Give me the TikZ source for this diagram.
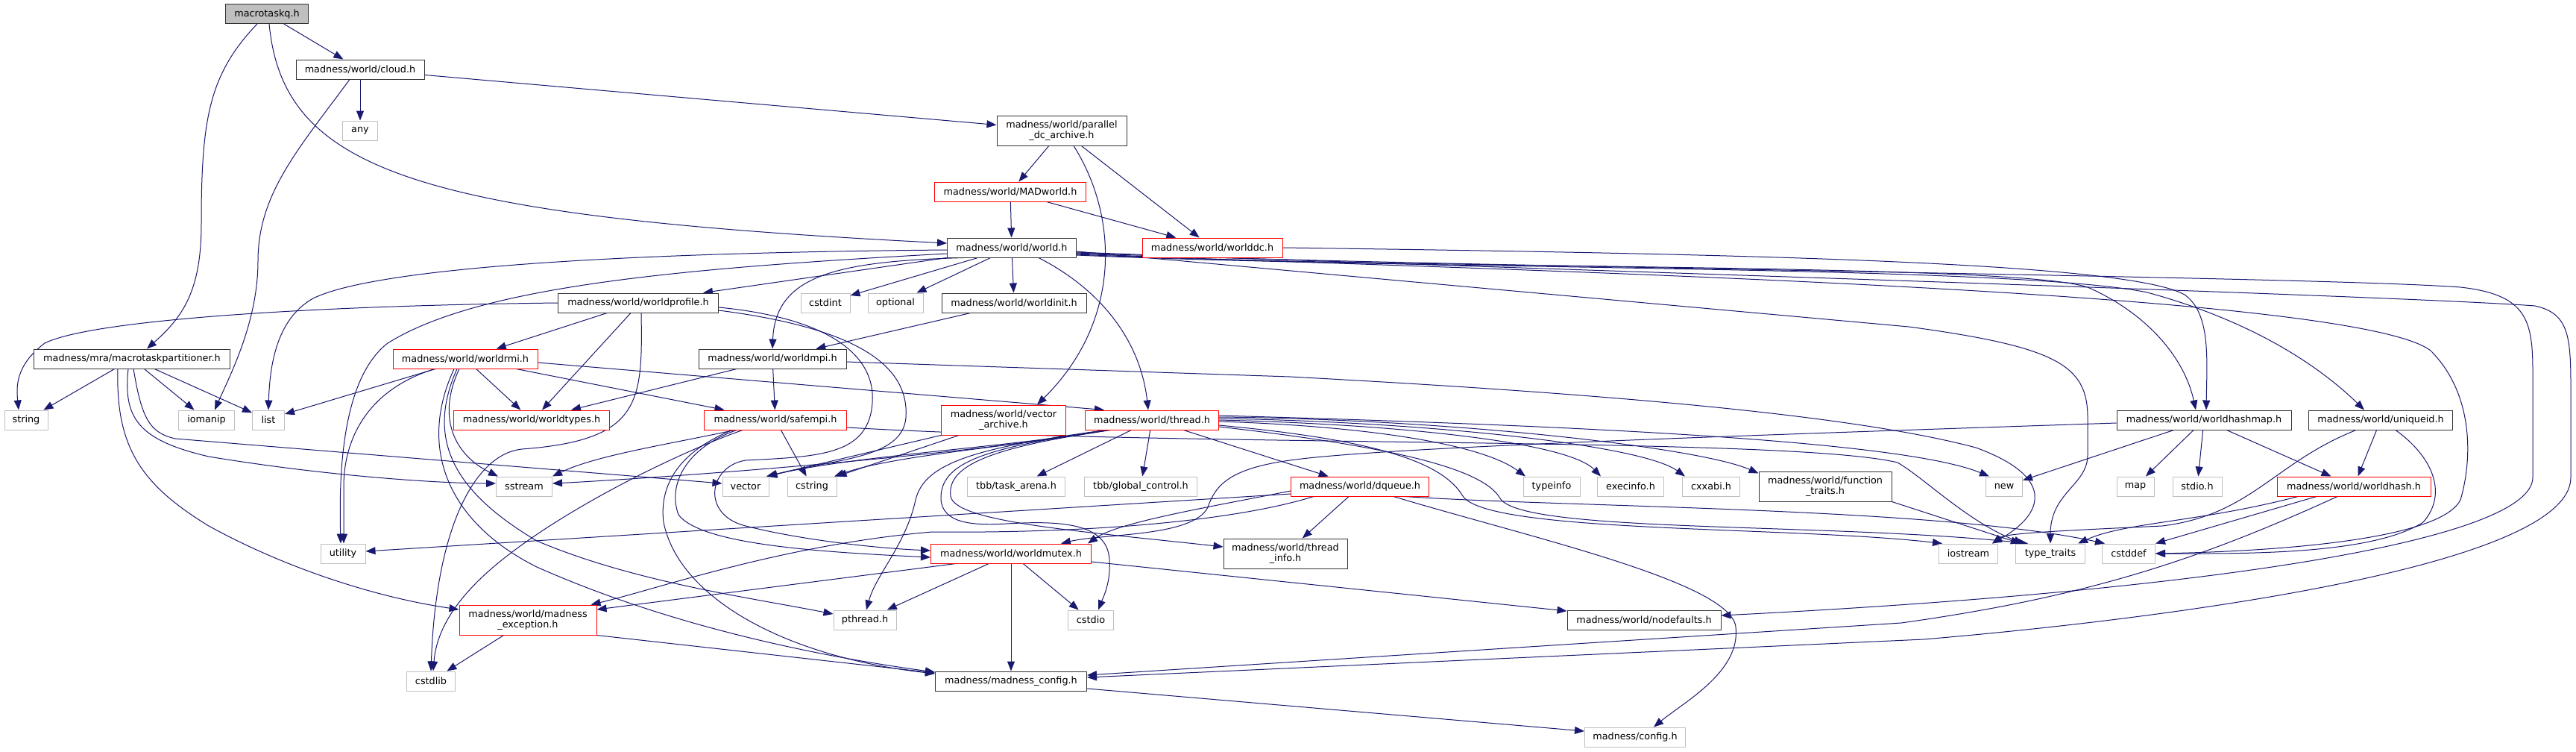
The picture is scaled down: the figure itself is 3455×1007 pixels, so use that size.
\documentclass[tikz,border=0pt]{standalone}
\usepackage{fontspec}
\setmainfont{DejaVu Sans}
\usetikzlibrary{arrows.meta,backgrounds}
\definecolor{Ink}{HTML}{191970}
\definecolor{Frame}{HTML}{333333}
\definecolor{Ash}{HTML}{BFBFBF}
\definecolor{Alert}{HTML}{FF0000}
\pgfdeclarelayer{paper}
\pgfsetlayers{paper,background,main}

\begin{document}
\begin{tikzpicture}[x=1pt,y=-1pt,
    box/.style={draw=Frame,line width=1pt,fill=white,minimum height=26pt,
      inner xsep=0pt,inner ysep=5.5pt,align=center,
      font=\fontsize{12.8}{14.5}\selectfont},
    sys/.style={box,draw=Ash},
    cut/.style={box,draw=Alert},
    tall/.style={minimum height=40pt},
    dep/.style={-{Triangle[length=13pt,width=10pt]},draw=Ink,line width=1pt}]
  \begin{pgfonlayer}{paper}
    \fill[white] (0,0) rectangle (3455,1007);
  \end{pgfonlayer}
  \useasboundingbox (0,0) rectangle (3455,1007);

  % project headers
  \node[box,fill=Ash,minimum width=111] (root) at (358,18.5) {macrotaskq.h};
  \node[box,minimum width=172] (cloud) at (483,93) {madness/world/cloud.h};
  \node[box,tall,minimum width=174] (parallel) at (1424,175) {madness/world/parallel\\\_dc\_archive.h};
  \node[cut,minimum width=203] (madworld) at (1355,257) {madness/world/MADworld.h};
  \node[box,minimum width=173] (world) at (1357,332) {madness/world/world.h};
  \node[cut,minimum width=188] (worlddc) at (1626,332) {madness/world/worlddc.h};
  \node[box,minimum width=215] (worldprofile) at (856,406) {madness/world/worldprofile.h};
  \node[box,minimum width=194] (worldinit) at (1360,406) {madness/world/worldinit.h};
  \node[box,minimum width=263] (partitioner) at (177,481) {madness/mra/macrotaskpartitioner.h};
  \node[cut,minimum width=194] (worldrmi) at (624,481) {madness/world/worldrmi.h};
  \node[box,minimum width=198] (worldmpi) at (1036,481) {madness/world/worldmpi.h};
  \node[cut,minimum width=209] (worldtypes) at (713,563) {madness/world/worldtypes.h};
  \node[cut,minimum width=191] (safempi) at (1040,563) {madness/world/safempi.h};
  \node[cut,tall,minimum width=167] (vectorarch) at (1346,563) {madness/world/vector\\\_archive.h};
  \node[cut,minimum width=179] (thread) at (1545,563) {madness/world/thread.h};
  \node[box,minimum width=234] (worldhashmap) at (2956,563) {madness/world/worldhashmap.h};
  \node[box,minimum width=193] (uniqueid) at (3193,563) {madness/world/uniqueid.h};
  \node[cut,minimum width=185] (dqueue) at (1824,652) {madness/world/dqueue.h};
  \node[box,tall,minimum width=178] (functraits) at (2448,652) {madness/world/function\\\_traits.h};
  \node[cut,minimum width=206] (worldhash) at (3157,652) {madness/world/worldhash.h};
  \node[cut,minimum width=215] (worldmutex) at (1356,742) {madness/world/worldmutex.h};
  \node[box,tall,minimum width=166] (threadinfo) at (1724,742) {madness/world/thread\\\_info.h};
  \node[cut,tall,minimum width=184] (madexc) at (708,831) {madness/world/madness\\\_exception.h};
  \node[box,minimum width=206] (nodefaults) at (2205,831) {madness/world/nodefaults.h};
  \node[box,minimum width=203] (madconfig) at (1356,913) {madness/madness\_config.h};

  % system headers
  \foreach \n/\x/\y/\w/\txt in {any/483/175/47/any, cstdint/1107/406/66/cstdint,
      optional/1201/406/74/optional, string/35/563/58/string, iomanip/277/563/75/iomanip,
      list/360/563/43/list, sstream/703/652/75/sstream, vector/1000/652/62/vector,
      cstring/1089/652/66/cstring, typeinfo/2081/652/76/typeinfo,
      execinfo/2187/652/89/execinfo.h, cxxabi/2295/652/77/cxxabi.h, new/2688/652/49/new,
      map/2864/652/50/map, stdio/2947/652/66/stdio.h, utility/460/742/60/utility,
      iostream/2640/742/79/iostream, typetraits/2750/742/93/type\_traits,
      cstddef/2855/742/71/cstddef, pthread/1160/831/84/pthread.h,
      cstdio/1463/831/61/cstdio, cstdlib/578/913/65/cstdlib} {
    \node[sys,minimum width=\w] (\n) at (\x,\y) {\txt};
  }
  \node[sys,minimum width=131] (taskarena) at (1363,652) {tbb/task\_arena.h};
  \node[sys,minimum width=151] (globalctrl) at (1530,652) {tbb/global\_control.h};
  \node[sys,minimum width=135] (config) at (2193,988) {madness/config.h};

  \begin{scope}[on background layer]
    \draw[dep] (root) -- (cloud);
    \draw[dep] ([xshift=-13]root.south) .. controls (280,100) and (270,160) .. (270,300)
      .. controls (270,390) and (245,425) .. ([xshift=20]partitioner.north);
    \draw[dep] ([xshift=3]root.south) .. controls (380,230) and (560,290) .. ([yshift=6]world.west);

    \draw[dep] (cloud) -- (any);
    \draw[dep] (cloud) -- (parallel);
    \draw[dep] ([xshift=-14]cloud.south) .. controls (400,200) and (346,260) .. (346,350)
      .. controls (346,430) and (310,500) .. ([xshift=11]iomanip.north);

    \draw[dep] (parallel) -- (madworld);
    \draw[dep] (parallel) -- (worlddc);
    \draw[dep] ([xshift=16]parallel.south) .. controls (1500,290) and (1505,430) .. ([xshift=45]vectorarch.north);
    \draw[dep] (madworld) -- (world);
    \draw[dep] (madworld) -- (worlddc);

    \draw[dep] (world) -- (cstdint);
    \draw[dep] (world) -- (optional);
    \draw[dep] (world) -- (worldinit);
    \draw[dep] (world.south west) -- ([xshift=87]worldprofile.north);
    \draw[dep] ([xshift=-64]world.south) .. controls (1120,350) and (1040,370) .. (worldmpi.north);
    \draw[dep] ([xshift=36]world.south) .. controls (1480,390) and (1530,460) .. ([xshift=-5]thread.north);
    \draw[dep] ([yshift=-3]world.west) .. controls (700,340) and (480,370) .. (420,400)
      .. controls (375,425) and (362,480) .. (list.north);
    \draw[dep] ([yshift=-8]world.west) .. controls (900,360) and (640,385) .. (520,460)
      .. controls (455,510) and (455,650) .. ([xshift=-3]utility.north);
    \draw[dep] ([yshift=-5]world.east) -- (2560,438) .. controls (2760,465) and (2800,490) .. (2800,560)
      -- (2800,610) .. controls (2800,650) and (2750,660) .. (typetraits.north);
    \draw[dep] ([yshift=-9]world.east) .. controls (1900,362) and (2700,352) .. (2800,385)
      .. controls (2880,420) and (2930,480) .. ([xshift=-11]worldhashmap.north);
    \draw[dep] ([yshift=-10]world.east) .. controls (1900,362) and (2700,355) .. (2880,392)
      .. controls (3020,430) and (3110,490) .. ([xshift=-22]uniqueid.north);
    \draw[dep] ([yshift=-8]world.east) .. controls (1900,360) and (3150,385) .. (3260,470)
      .. controls (3320,530) and (3315,620) .. (3300,670) .. controls (3270,730) and (3000,740) .. (cstddef.east);
    \draw[dep] ([yshift=-7]world.east) .. controls (1900,358) and (3100,370) .. (3300,385)
      .. controls (3390,395) and (3397,430) .. (3397,500) -- (3397,640)
      .. controls (3397,720) and (3000,790) .. ([yshift=6]nodefaults.east);
    \draw[dep] ([yshift=-6]world.east) .. controls (1900,356) and (3200,395) .. (3400,410)
      .. controls (3445,420) and (3448,450) .. (3448,520) -- (3448,640)
      .. controls (3448,760) and (2900,830) .. (2580,857) -- ([yshift=5]madconfig.east);
    \draw[dep] (worlddc.east) .. controls (2300,340) and (2850,350) .. (2930,395)
      .. controls (2965,420) and (2960,480) .. ([xshift=3]worldhashmap.north);

    \draw[dep] (worldprofile.west) .. controls (400,410) and (120,430) .. (60,460)
      .. controls (20,490) and (22,520) .. ([xshift=-10]string.north);
    \draw[dep] (worldprofile) -- (worldrmi);
    \draw[dep] ([xshift=-10]worldprofile.south) -- ([xshift=14]worldtypes.north);
    \draw[dep] ([xshift=4]worldprofile.south) .. controls (862,540) and (860,590) .. (700,602)
      .. controls (640,608) and (585,700) .. (cstdlib.north);
    \draw[dep] ([yshift=-6]worldprofile.east) .. controls (1100,425) and (1175,470) .. (1170,540)
      .. controls (1165,610) and (1100,612) .. (1000,617) .. controls (950,625) and (940,690) .. (1000,705)
      .. controls (1080,725) and (1180,735) .. ([yshift=4]worldmutex.west);
    \draw[dep] ([yshift=-10]worldprofile.east) .. controls (1150,440) and (1220,490) .. (1215,560)
      .. controls (1210,615) and (1120,615) .. ([xshift=-2]vector.north east);

    \draw[dep] (partitioner) -- (string);
    \draw[dep] (partitioner) -- (iomanip);
    \draw[dep] (partitioner) -- (list);
    \draw[dep] ([xshift=-5]partitioner.south) .. controls (165,560) and (185,590) .. (280,612)
      .. controls (450,640) and (600,648) .. ([yshift=4]sstream.west);
    \draw[dep] ([xshift=2]partitioner.south) .. controls (190,560) and (200,580) .. (235,588)
      -- ([yshift=4]vector.west);
    \draw[dep] ([xshift=-19]partitioner.south) .. controls (155,600) and (190,650) .. (280,705)
      .. controls (380,760) and (500,800) .. ([yshift=14]madexc.west);

    \draw[dep] (worldinit) -- (worldmpi);
    \draw[dep] ([xshift=-40]worldrmi.south) -- ([yshift=8]list.east);
    \draw[dep] (worldrmi) -- (worldtypes);
    \draw[dep] (worldrmi) -- (safempi);
    \draw[dep] ([yshift=-5]worldrmi.east) -- ([xshift=-64]thread.north);
    \draw[dep] ([xshift=-41]worldrmi.south) .. controls (500,520) and (462,580) .. (461,650)
      -- ([xshift=1]utility.north);
    \draw[dep] ([xshift=-8]worldrmi.south) .. controls (585,560) and (610,610) .. ([xshift=-35]sstream.north);
    \draw[dep] ([xshift=-11]worldrmi.south) .. controls (570,590) and (610,660) .. (720,725)
      .. controls (850,780) and (1000,800) .. ([yshift=8]pthread.west);
    \draw[dep] ([xshift=-15]worldrmi.south) .. controls (560,600) and (600,700) .. (720,760)
      .. controls (900,840) and (1100,880) .. ([yshift=12]madconfig.west);

    \draw[dep] ([xshift=-48]worldmpi.south) -- ([xshift=53]worldtypes.north);
    \draw[dep] (worldmpi) -- (safempi);
    \draw[dep] ([yshift=-4]worldmpi.east) -- (1730,505) .. controls (2200,530) and (2500,560) .. (2650,600)
      .. controls (2760,640) and (2740,690) .. ([xshift=32]iostream.north);

    \draw[dep] ([xshift=-55]safempi.south) .. controls (900,595) and (800,610) .. (sstream.north east);
    \draw[dep] ([xshift=-44]safempi.south) .. controls (900,610) and (720,700) .. (640,780)
      .. controls (605,815) and (585,850) .. ([xshift=3]cstdlib.north);
    \draw[dep] (safempi) -- (cstring);
    \draw[dep] ([xshift=-52]safempi.south) .. controls (920,600) and (895,650) .. (910,690)
      .. controls (940,730) and (1100,740) .. ([yshift=-5]worldmutex.west);
    \draw[dep] ([xshift=-58]safempi.south) .. controls (900,610) and (885,660) .. (890,700)
      .. controls (910,800) and (1050,880) .. ([yshift=10]madconfig.west);
    \draw[dep] ([yshift=-10]safempi.east) .. controls (1600,600) and (2400,585) .. (2545,620)
      .. controls (2580,640) and (2640,700) .. ([xshift=-36]typetraits.north);

    \draw[dep] (vectorarch.south west) -- ([xshift=-3]vector.north east);
    \draw[dep] ([xshift=-60]vectorarch.south) -- (cstring.north east);

    \draw[dep] ([xshift=-60]thread.south) .. controls (1350,600) and (1150,610) .. ([xshift=28]vector.north);
    \draw[dep] ([xshift=-58]thread.south) .. controls (1350,600) and (1200,610) .. ([xshift=30]cstring.north);
    \draw[dep] ([xshift=-62]thread.south) .. controls (1300,610) and (900,640) .. ([yshift=4]sstream.east);
    \draw[dep] ([xshift=-62]thread.south) .. controls (1310,600) and (1240,620) .. (1228,670)
      .. controls (1215,730) and (1175,770) .. ([xshift=2]pthread.north);
    \draw[dep] ([xshift=-58]thread.south) .. controls (1320,600) and (1260,620) .. (1262,670)
      .. controls (1265,700) and (1300,705) .. (1350,702) .. controls (1420,698) and (1485,700) .. (1488,750)
      .. controls (1490,780) and (1480,800) .. ([xshift=10]cstdio.north);
    \draw[dep] ([xshift=-55]thread.south) .. controls (1325,600) and (1270,625) .. (1275,665)
      .. controls (1280,700) and (1450,712) .. ([yshift=9]threadinfo.west);
    \draw[dep] (thread) -- (taskarena);
    \draw[dep] (thread) -- (globalctrl);
    \draw[dep] (thread) -- (dqueue);
    \draw[dep] ([yshift=-2]thread.east) .. controls (1800,570) and (1980,590) .. ([xshift=-35]typeinfo.north);
    \draw[dep] (thread.east) .. controls (1850,568) and (2100,590) .. ([xshift=-40]execinfo.north);
    \draw[dep] ([yshift=2]thread.east) .. controls (1900,565) and (2200,595) .. ([xshift=-35]cxxabi.north);
    \draw[dep] ([yshift=4]thread.east) .. controls (1950,562) and (2280,600) .. ([yshift=-3]functraits.north west);
    \draw[dep] ([yshift=6]thread.east) .. controls (2100,570) and (2550,590) .. ([xshift=-20]new.north);
    \draw[dep] ([yshift=-7]thread.east) .. controls (1850,590) and (1935,620) .. (1962,665)
      .. controls (1995,715) and (2400,705) .. ([xshift=-35]iostream.north);
    \draw[dep] ([yshift=-9]thread.east) .. controls (1880,600) and (1990,630) .. (2012,668)
      .. controls (2040,715) and (2450,700) .. ([xshift=-30]typetraits.north);

    \draw[dep] ([yshift=-10]dqueue.west) -- ([yshift=3]utility.east);
    \draw[dep] ([yshift=-6]dqueue.west) .. controls (1620,680) and (1500,700) .. ([xshift=103]worldmutex.north);
    \draw[dep] ([xshift=-62]dqueue.south) .. controls (1650,700) and (1450,715) .. (1250,713)
      .. controls (1050,730) and (880,790) .. ([xshift=-8]madexc.north east);
    \draw[dep] (dqueue) -- (threadinfo);
    \draw[dep] ([xshift=45]dqueue.south) .. controls (2050,720) and (2320,780) .. (2328,840)
      .. controls (2335,900) and (2260,940) .. ([xshift=25]config.north);
    \draw[dep] ([xshift=60]dqueue.south) .. controls (2100,680) and (2600,680) .. ([xshift=-32]cstddef.north);

    \draw[dep] ([yshift=-4]worldhashmap.west) .. controls (2300,585) and (1850,600) .. (1730,617)
      .. controls (1650,628) and (1630,650) .. (1620,680) .. controls (1600,720) and (1480,715) .. ([xshift=67]worldmutex.north);
    \draw[dep] (worldhashmap) -- (new);
    \draw[dep] (worldhashmap) -- (map);
    \draw[dep] (worldhashmap) -- (stdio);
    \draw[dep] (worldhashmap) -- (worldhash);

    \draw[dep] (uniqueid) -- (worldhash);
    \draw[dep] ([xshift=-33]uniqueid.south) .. controls (3050,620) and (3020,690) .. (2900,705)
      .. controls (2750,712) and (2690,715) .. ([xshift=32]iostream.north);
    \draw[dep] ([xshift=20]uniqueid.south) .. controls (3260,610) and (3285,660) .. (3250,700)
      .. controls (3180,745) and (3000,742) .. (cstddef.east);

    \draw[dep] ([xshift=-75]worldhash.south) .. controls (2950,700) and (2850,700) .. ([xshift=37]typetraits.north);
    \draw[dep] ([xshift=-50]worldhash.south) -- (cstddef.north east);
    \draw[dep] ([xshift=-22]worldhash.south) .. controls (2950,750) and (2800,800) .. (2550,835)
      -- ([yshift=8]madconfig.east);
    \draw[dep] (functraits.south east) -- ([xshift=-40]typetraits.north);

    \draw[dep] (worldmutex) -- (pthread);
    \draw[dep] (worldmutex) -- (cstdio);
    \draw[dep] (worldmutex) -- (madconfig);
    \draw[dep] ([xshift=-74]worldmutex.south) -- ([yshift=14]madexc.east);
    \draw[dep] ([yshift=-11]worldmutex.east) -- ([yshift=12]nodefaults.west);
    \draw[dep] (madexc) -- (cstdlib);
    \draw[dep] (madexc.south east) -- ([yshift=11]madconfig.west);
    \draw[dep] ([yshift=-10]madconfig.east) -- ([yshift=8]config.west);
  \end{scope}
\end{tikzpicture}
\end{document}
